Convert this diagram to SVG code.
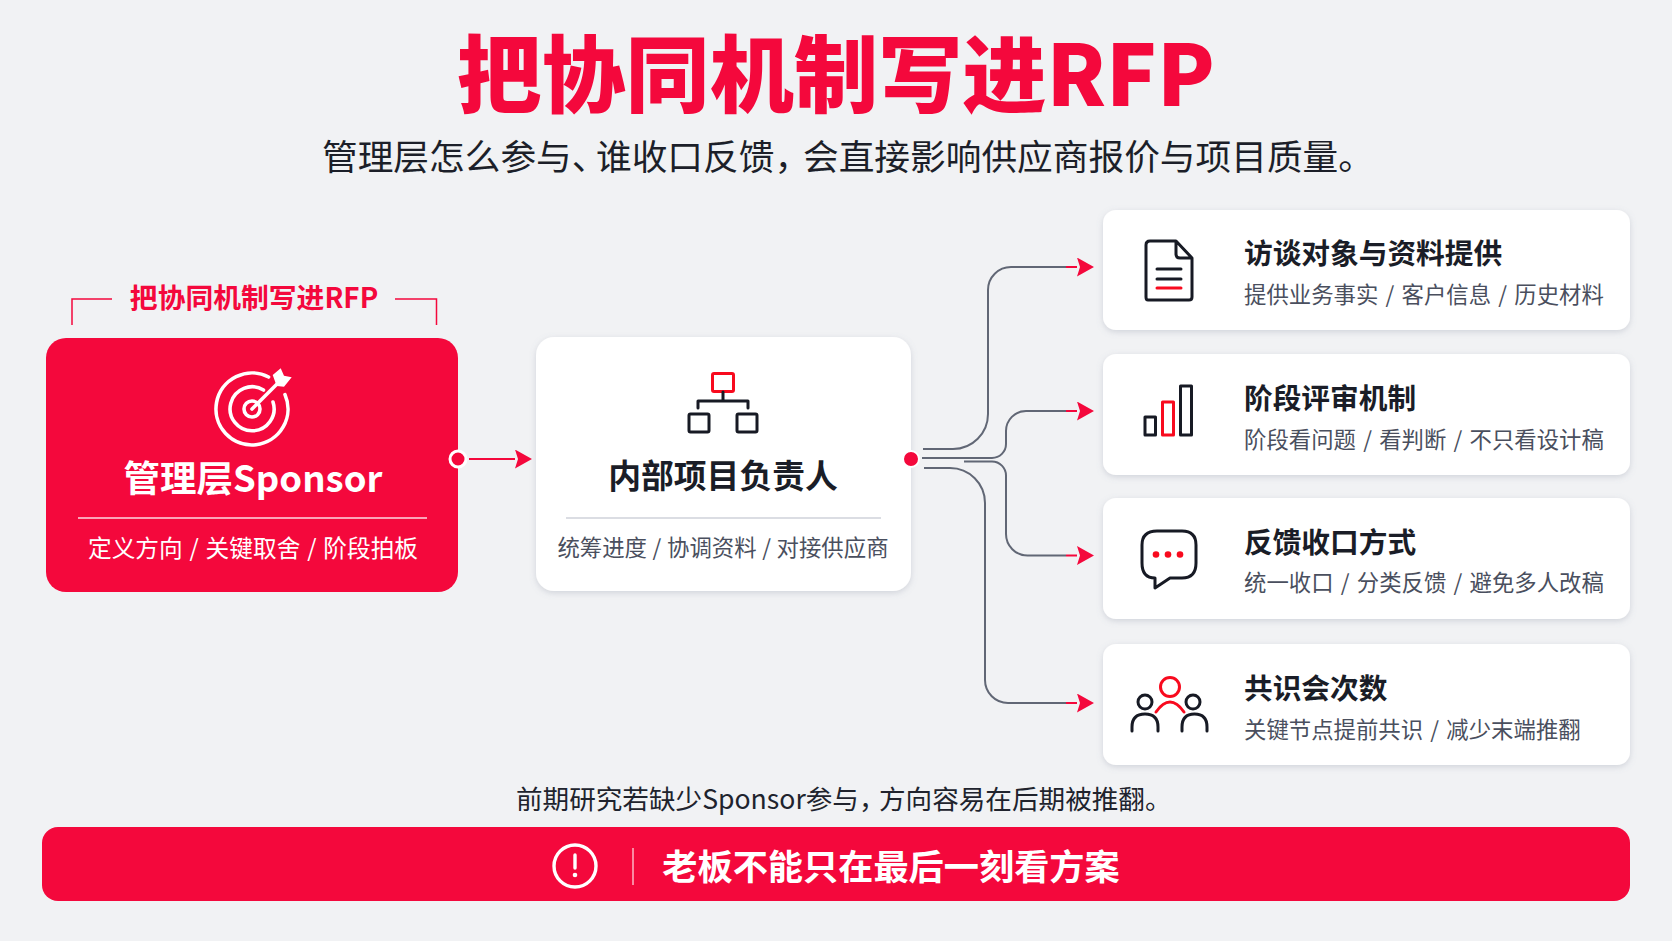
<svg xmlns="http://www.w3.org/2000/svg" width="1672" height="941" viewBox="0 0 1672 941">
<defs>
<filter id="sh" x="-10%" y="-10%" width="120%" height="125%"><feDropShadow dx="0" dy="2" stdDeviation="3" flood-color="#7a8296" flood-opacity="0.28"/></filter>
<marker id="ah" viewBox="0 0 17 19" refX="0" refY="9.5" markerWidth="17" markerHeight="19" markerUnits="userSpaceOnUse" orient="auto"><path d="M0 0L17 9.5L0 19L3 9.5Z" fill="#f4083c"/></marker>
</defs>
<style>
text{font-family:"Noto Sans CJK SC","Noto Sans",sans-serif}
.card{fill:#fff;filter:url(#sh)}
.t{font-size:28.7px;font-weight:700;fill:#1a1d27}
.s{font-size:22.4px;fill:#4a4f5e;word-spacing:2.2px}
.k{fill:none;stroke:#171a24;stroke-width:3;stroke-linejoin:round;stroke-linecap:round}
.r{fill:none;stroke:#f80a1e;stroke-width:3;stroke-linejoin:round;stroke-linecap:round}
.w{fill:none;stroke:#fff;stroke-width:3.6;stroke-linecap:round;stroke-linejoin:round}
.c{fill:none;stroke:#616775;stroke-width:2}
.c2{fill:none;stroke:#f4083c;stroke-width:2}
</style>
<rect width="1672" height="941" fill="#f1f2f4"/>
<g id="title">
<text x="836" y="106" text-anchor="middle" font-size="84.2" font-weight="900" fill="#f4083c">把协同机制写进RFP</text>
<text y="170" font-size="35.7" fill="#1c1f29"><tspan x="322">管理层怎么参与、</tspan><tspan x="596">谁收口反馈，</tspan><tspan x="803">会直接影响供应商报价与项目质量。</tspan></text>
</g>
<g id="sponsor-label">
<path d="M72 325V299H112M395 299H436.500V325" fill="none" stroke="#f4083c" stroke-width="1.500"/>
<text x="254" y="308" text-anchor="middle" font-size="27.800" font-weight="700" fill="#f4083c">把协同机制写进RFP</text>
</g>
<g id="connectors">
<path class="c2" d="M469 459H515" marker-end="url(#ah)"/>
<path class="c" d="M923 449H953A35 35 0 0 0 988 414V290A23 23 0 0 1 1011 267H1066"/>
<path class="c" d="M922 458H992A14 14 0 0 0 1006 444V431A20 20 0 0 1 1026 411H1066"/>
<path class="c" d="M964 461.500H992A14 14 0 0 1 1006 475.500V534A21.500 21.500 0 0 0 1027.500 555.500H1066"/>
<path class="c" d="M924 468H950A35 35 0 0 1 985 503V680A23 23 0 0 0 1008 703H1066"/>
<path class="c2" d="M1066 267H1077" marker-end="url(#ah)"/>
<path class="c2" d="M1066 411H1077" marker-end="url(#ah)"/>
<path class="c2" d="M1066 555.500H1077" marker-end="url(#ah)"/>
<path class="c2" d="M1066 703H1077" marker-end="url(#ah)"/>
</g>
<g id="sponsor">
<rect x="46" y="338" width="412" height="254" rx="20" fill="#f4083c"/>
<path class="w" d="M268.600 377A36 36 0 1 0 285 394.600"/>
<path class="w" d="M263.500 390A22 22 0 1 0 273 402"/>
<circle class="w" cx="252" cy="409" r="8"/>
<path class="w" d="M252 409L278 383"/>
<path d="M272.700 375L280.700 368.300L284 375.700L291.700 377.300L284 386.700L276.700 386Z" fill="#fff"/>
<text x="253" y="492" text-anchor="middle" font-size="36.500" font-weight="700" fill="#fff">管理层Sponsor</text>
<path d="M78 518H427" stroke="#fff" stroke-width="1.300" stroke-opacity=".85"/>
<text x="253" y="557" text-anchor="middle" font-size="23.700" word-spacing="1.500" fill="#fff">定义方向 / 关键取舍 / 阶段拍板</text>
<circle cx="458" cy="459" r="8" fill="#f4083c" stroke="#fff" stroke-width="3"/>
</g>
<g id="owner">
<rect class="card" x="536" y="337" width="375" height="254" rx="18"/>
<rect class="r" x="712.500" y="373.500" width="21" height="18" rx="1.500"/>
<path class="k" d="M723 392V401M698 408V401H748V408"/>
<rect class="k" x="689" y="414" width="20" height="18" rx="1.500"/>
<rect class="k" x="737" y="414" width="20" height="18" rx="1.500"/>
<text x="723" y="488" text-anchor="middle" font-size="32.800" font-weight="700" fill="#1a1d27">内部项目负责人</text>
<path d="M566 518H881" stroke="#cfd2da" stroke-width="1.500"/>
<text x="723" y="556" text-anchor="middle" class="s" style="word-spacing:.6px">统筹进度 / 协调资料 / 对接供应商</text>
<circle cx="911" cy="459" r="8" fill="#f4083c" stroke="#fff" stroke-width="2"/>
</g>
<g id="card1">
<rect class="card" x="1103" y="210" width="527" height="120" rx="13"/>
<path class="k" d="M1150 241H1176L1192 258V297Q1192 300 1189 300H1148Q1146 300 1146 297V245Q1146 241 1150 241ZM1176 241V254Q1176 258 1180 258H1192"/>
<path class="k" d="M1157 269H1181M1157 279H1181"/>
<path class="r" d="M1157 288H1181"/>
<text x="1244" y="264" class="t">访谈对象与资料提供</text>
<text x="1244" y="303" class="s">提供业务事实 / 客户信息 / 历史材料</text>
</g>
<g id="card2">
<rect class="card" x="1103" y="354" width="527" height="121" rx="13"/>
<rect class="k" x="1145" y="417" width="10.500" height="18"/>
<rect class="r" x="1162.500" y="402" width="11" height="33"/>
<rect class="k" x="1180.500" y="386" width="11" height="49"/>
<text x="1244" y="409" class="t">阶段评审机制</text>
<text x="1244" y="447.500" class="s">阶段看问题 / 看判断 / 不只看设计稿</text>
</g>
<g id="card3">
<rect class="card" x="1103" y="498" width="527" height="121" rx="13"/>
<path class="k" d="M1157 531H1182Q1196 531 1196 545V563Q1196 578 1182 578H1170L1155 588V578Q1142 578 1142 563V545Q1142 531 1157 531Z"/>
<circle cx="1156" cy="554.500" r="3.300" fill="#f80a1e"/><circle cx="1168" cy="554.500" r="3.300" fill="#f80a1e"/><circle cx="1180" cy="554.500" r="3.300" fill="#f80a1e"/>
<text x="1244" y="552.500" class="t">反馈收口方式</text>
<text x="1244" y="591" class="s">统一收口 / 分类反馈 / 避免多人改稿</text>
</g>
<g id="card4">
<rect class="card" x="1103" y="644" width="527" height="121" rx="13"/>
<circle class="r" cx="1170" cy="687" r="9.500"/>
<path class="r" d="M1156 712Q1170 692 1184 712"/>
<circle class="k" cx="1145" cy="702" r="7"/>
<circle class="k" cx="1193" cy="702" r="7"/>
<path class="k" d="M1132 731V727Q1132 714 1145 714Q1158 714 1158 727V731M1182 731V727Q1182 714 1194.500 714Q1207 714 1207 727V731"/>
<text x="1244" y="699" class="t">共识会次数</text>
<text x="1244" y="738" class="s">关键节点提前共识 / 减少末端推翻</text>
</g>
<g id="footer">
<text y="808.500" font-size="26.600" fill="#20232d"><tspan x="516">前期研究若缺少Sponsor参与，</tspan><tspan x="879">方向容易在后期被推翻。</tspan></text>
<rect x="42" y="827" width="1588" height="74" rx="16" fill="#f4083c"/>
<circle cx="575" cy="866" r="21" fill="none" stroke="#fff" stroke-width="3.400"/>
<path d="M575 855V868" stroke="#fff" stroke-width="3.400" stroke-linecap="round"/>
<circle cx="575" cy="875" r="2.300" fill="#fff"/>
<path d="M633 848V885" stroke="#fff" stroke-opacity=".7" stroke-width="1.500"/>
<text x="891" y="880" text-anchor="middle" font-size="35.200" font-weight="700" fill="#fff">老板不能只在最后一刻看方案</text>
</g>
</svg>
